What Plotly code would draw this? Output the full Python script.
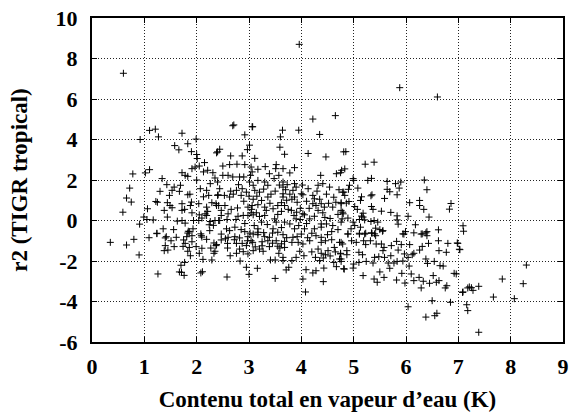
import plotly.graph_objects as go

# (water vapour content, r2), grouped by region of the plot
outliers = [(0.60,7.27),(3.96,8.70),(5.88,6.56),(6.60,6.10),(4.65,5.18),(4.22,5.01),(2.71,4.72),(3.07,4.63)]

left_upper = [(1.10,4.45),(1.21,4.51),(1.27,4.13),(0.92,4.0),(1.72,4.31),(1.58,3.70),(1.66,3.49),(1.83,3.79),(1.90,3.40),(1.99,4.02),
(2.0,3.26),(2.01,3.06),(2.40,3.39),(2.15,2.86),(2.05,2.69),(1.97,2.64),(1.91,2.56),(2.13,2.40),(2.21,2.48),(2.31,2.36),
(1.72,2.36),(1.78,2.23),(1.83,2.18),(1.10,2.51),(1.02,2.35),(0.78,2.30),(2.0,2.0),(2.35,2.10),(1.34,2.07),(1.43,1.77),
(1.57,1.65),(1.69,1.74),(1.53,1.49),(1.67,1.44),(2.07,1.57),(2.19,1.49),(2.26,1.82),(2.40,1.90),(1.30,1.44),(1.48,1.24),
(1.83,1.27),(1.87,1.30),(2.13,1.17),(2.23,1.24),(2.40,1.24),(0.72,1.60),(0.66,1.11),(0.75,0.91),(0.59,0.41),(1.06,0.58),
(1.22,0.94),(1.25,0.90),(1.44,0.88),(1.49,0.74),(1.38,0.50),(1.53,0.63),(1.72,0.83),(1.90,0.91),(2.04,0.83),(1.72,0.50),
(1.77,0.55),(1.88,0.74),(2.19,0.66),(2.29,0.88),(2.37,0.83),(2.42,0.74),(2.16,0.33),(2.05,0.28),(2.21,0.45),(1.91,0.38),
(1.44,0.17),(0.99,0.17),(1.05,0.05),(1.17,0.03),(0.91,-0.18),(1.63,-0.03),(1.72,0.0),(1.78,-0.13),(1.94,0.0),(2.04,0.0),
(2.10,0.12),(2.19,0.25),(2.26,-0.05),(2.35,0.0),(2.42,0.0),(2.24,-0.21),(2.32,-0.24),(1.24,-0.63),(1.36,-0.41),(1.56,-0.45),
(1.86,-0.55),(1.93,-0.41),(1.83,-0.62),(2.08,-0.66),(2.25,-0.5)]

left_lower = [(0.35,-1.08),(0.66,-1.21),(0.80,-0.93),(0.90,-1.70),(1.09,-0.85),(1.24,-0.65),(1.40,-0.86),(1.42,-0.80),(1.51,-1.0),(1.61,-0.83),
(1.40,-1.24),(1.38,-1.49),(1.45,-1.46),(1.57,-1.29),(1.74,-1.28),(1.75,-0.96),(1.81,-0.80),(1.91,-0.75),(1.84,-0.53),(1.78,-1.13),
(1.91,-1.05),(1.86,-1.33),(1.99,-1.29),(1.83,-1.52),(1.88,-1.74),(2.05,-1.62),(2.10,-1.37),(2.09,-0.75),(2.10,-0.82),(2.19,-0.93),
(2.27,-1.36),(2.33,-1.11),(2.37,-1.24),(2.35,-1.52),(2.33,-1.62),(2.12,-1.92),(2.29,-1.95),(1.77,-2.07),(1.70,-2.21),(1.67,-2.54),
(1.71,-2.56),(1.76,-2.71),(1.26,-2.64),(2.11,-2.53),(2.08,-2.59)]

middle_upper = [(3.06,4.63),(2.69,4.68),(3.64,4.46),(3.95,4.46),(3.60,4.13),(2.92,4.23),(4.35,4.25),(3.01,3.72),(2.97,3.50),(2.44,3.52),
(2.38,3.34),(3.59,3.62),(3.68,3.27),(4.13,3.31),(2.65,3.19),(2.87,3.19),(3.11,3.07),(4.47,3.14),(4.81,3.39),(2.50,2.69),
(2.63,2.76),(2.77,2.78),(2.92,2.76),(3.04,2.64),(3.17,2.53),(3.31,2.66),(3.52,2.76),(3.51,2.56),(3.65,2.56),(3.87,2.61),
(3.78,2.35),(3.57,2.23),(3.48,2.07),(3.39,2.31),(3.06,2.40),(3.03,2.23),(2.50,2.23),(2.60,2.23),(2.69,2.15),(2.82,2.15),
(2.90,2.15),(4.37,2.23),(4.67,2.31),(4.77,2.48),(2.44,1.57),(2.38,0.74),(3.01,1.9),(3.08,1.74),(3.17,1.98),(3.30,1.90),
(3.36,1.74),(2.80,1.77),(2.87,1.57),(2.76,1.49),(2.85,1.24),(2.53,1.24),(2.63,1.16),(2.41,1.27),(3.11,1.49),(3.20,1.40),
(3.24,0.99),(3.36,1.16),(3.65,1.90),(3.73,1.77),(3.87,1.82),(3.65,1.65),(3.65,1.32),(3.65,1.16),(3.84,1.49),(3.90,1.65),
(3.87,1.16),(4.0,1.32),(4.03,1.27),(4.13,1.57),(4.32,1.74),(4.41,1.82),(4.54,1.65),(4.72,1.52),(4.79,1.40),(4.22,1.24),
(4.25,1.07),(4.22,0.83),(4.28,0.74),(4.38,0.83),(4.44,0.66),(4.60,0.66),(4.76,0.83),(4.79,0.41),(4.32,0.50),(4.41,0.38),
(4.25,0.21),(2.98,0.66),(3.06,0.74),(3.17,0.78),(3.04,0.38),(3.30,0.66),(3.33,0.50),(3.30,0.25),(3.24,-0.08),(2.47,0.50),
(2.54,0.74),(2.60,0.33),(2.47,0.25),(2.79,0.21),(2.89,0.25),(2.98,0.25),(3.08,0.28),(3.14,0.38),(3.46,0.58),(3.55,0.74),
(3.68,0.74),(3.81,0.50),(3.91,0.41),(4.06,0.28),(4.03,0.33),(3.49,0.08),(3.52,-0.08),(3.68,-0.08),(3.78,-0.17),(3.90,0.08),
(4.16,0.08),(4.38,-0.17),(4.38,-0.33),(4.48,-0.17),(4.60,-0.25),(4.76,-0.08),(3.17,-0.41),(3.17,-0.58),(2.57,-0.41),(2.73,-0.33),
(2.92,-0.55),(2.44,0.0),(2.63,-0.5),(3.46,-0.41),(3.55,-0.58),(3.87,-0.41),(4.06,-0.41),(4.25,-0.41)]

# tighter clumps in the middle of the cloud, where marks overlap in the picture
dense_core = [(2.65,1.45),(2.70,1.30),(2.95,1.40),(3.00,1.20),(3.08,1.05),(3.15,1.20),(3.28,1.55),(3.42,1.30),(3.50,1.45),(3.58,1.75),
(3.70,1.52),(3.78,1.30),(3.82,1.05),(3.72,1.00),(3.62,0.88),(3.75,0.55),(3.92,0.90),(3.98,0.60),(4.10,0.95),(4.15,0.60),
(4.02,1.75),(4.30,1.45),(4.48,1.30),(4.62,1.15),(4.66,0.90),(4.52,0.85),(4.35,1.05),(4.70,0.30),(4.55,0.10),(4.45,0.15),
(4.10,-0.15),(3.95,-0.25),(3.62,-0.35),(3.35,-0.20),(3.10,-0.25),(2.92,-0.15),(2.75,0.05),(2.58,0.05),(2.66,0.55),(2.78,0.62),
(2.90,0.95),(3.05,0.55),(3.20,0.20),(3.40,0.85),(3.55,0.30),(3.62,0.45),(3.86,0.25),(3.98,0.05),(4.58,-0.55),(4.70,-0.45),
(4.50,-0.70),(4.28,-0.75),(4.12,-0.85),(3.92,-0.80),(3.72,-0.85),(3.45,-0.62),(3.28,-0.60),(3.02,-0.62),(2.85,-0.45),(2.55,-0.90),
(3.62,-1.15),(3.45,-1.12),(3.25,-1.25),(3.12,-1.30),(2.72,-0.95),(4.58,-0.95),(4.65,-1.55),(4.55,-1.75),(4.42,-1.85),(4.20,-1.55)]

middle_lower = [(2.47,-0.67),(2.60,-0.83),(2.73,-0.8),(2.82,-0.86),(2.98,-0.8),(2.47,-0.96),(2.38,-1.19),(2.59,-1.13),(2.59,-1.36),(2.76,-1.13),
(2.87,-1.13),(2.97,-1.0),(3.04,-1.0),(3.07,-1.08),(2.95,-1.24),(2.82,-1.41),(2.76,-1.62),(2.89,-1.54),(2.98,-1.65),(3.08,-1.49),
(2.64,-1.74),(3.25,-1.05),(3.20,-1.41),(3.27,-1.52),(3.39,-1.29),(3.17,-0.7),(3.30,-0.8),(3.39,-0.83),(3.52,-1.0),(3.65,-0.7),
(3.68,-1.03),(3.68,-1.33),(3.59,-1.36),(3.57,-1.62),(3.84,-0.83),(3.82,-1.08),(3.94,-1.08),(4.03,-1.16),(4.16,-1.0),(3.97,-1.52),
(4.05,-1.74),(3.90,-1.82),(3.82,-1.98),(3.65,-1.82),(3.65,-1.98),(3.50,-1.95),(3.41,-1.95),(4.27,-1.82),(4.35,-1.98),(4.32,-1.41),
(4.38,-1.62),(4.46,-1.69),(4.51,-1.49),(4.63,-1.33),(4.73,-1.08),(4.79,-1.16),(4.46,-1.0),(4.38,-1.08),(4.75,-1.62),(4.73,-1.9),
(4.76,-2.02),(4.62,-2.07),(4.67,-2.28),(4.81,-2.38),(4.43,-2.35),(4.28,-2.48),(4.22,-2.59),(4.09,-2.43),(4.42,-3.02),(4.03,-2.89),
(4.08,-3.53),(3.76,-2.31),(3.71,-2.44),(3.50,-2.86),(3.16,-2.36),(2.95,-2.31),(3.0,-2.66),(2.83,-2.0),(2.58,-2.79),(3.08,-0.67),
(3.36,-1.0),(3.55,-1.27),(4.0,-0.67),(4.2,-0.63),(4.38,-0.83)]

right_upper = [(4.85,3.40),(5.39,2.88),(5.22,2.78),(4.83,2.55),(4.75,2.36),(4.99,2.07),(5.0,1.98),(5.34,2.08),(5.27,1.98),(5.64,1.93),
(5.80,1.82),(5.90,1.90),(5.87,1.60),(6.35,2.0),(6.40,1.52),(5.64,1.54),(5.69,1.42),(5.83,1.27),(5.59,1.09),(6.07,0.88),
(6.26,0.99),(6.26,0.74),(6.34,0.55),(6.86,0.84),(6.83,0.56),(6.44,0.17),(6.04,0.21),(5.83,0.23),(5.83,0.03),(5.85,-0.18),
(5.71,0.40),(5.53,0.46),(6.18,-0.21),(6.62,-0.46),(6.40,-0.55),(5.99,-0.55),(7.09,-0.26),(7.10,-0.53),(6.15,-0.61),(6.31,-0.66),
(6.38,-0.61),(5.94,-0.66),(5.08,1.60),(4.92,1.74),(4.90,1.54),(4.81,1.40),(4.83,1.24),(4.91,0.94),(4.86,0.86),(4.76,0.88),
(5.15,1.17),(5.13,0.99),(5.35,1.27),(5.33,1.22),(5.34,0.69),(5.37,0.55),(5.02,0.69),(5.07,0.55),(5.18,0.36),(5.15,0.22),
(5.18,0.17),(5.11,0.05),(5.21,0.03),(4.76,0.50),(4.80,0.33),(4.78,0.08),(4.89,0.12),(4.99,-0.08),(5.02,-0.25),(4.95,-0.41),
(5.33,-0.05),(5.39,0.0),(5.46,-0.08),(5.42,-0.38),(5.50,-0.45),(5.56,-0.50),(5.13,-0.33),(5.11,-0.63),(5.23,-0.63),(5.34,-0.61),
(5.40,-0.66),(4.89,-0.66)]

right_lower = [(4.89,-0.67),(5.11,-0.67),(5.21,-0.67),(5.35,-0.63),(5.55,-0.53),(4.76,-1.08),(4.87,-1.49),(4.87,-1.69),(4.76,-1.90),(4.75,-1.65),
(4.96,-1.0),(5.05,-1.08),(5.19,-1.0),(5.23,-1.19),(5.32,-1.0),(5.42,-0.75),(5.43,-1.16),(5.53,-1.16),(5.56,-1.49),(5.58,-1.33),
(5.72,-1.24),(5.82,-1.03),(5.91,-1.19),(5.85,-1.46),(5.96,-0.67),(6.29,-0.67),(6.40,-0.75),(6.07,-1.19),(6.31,-1.28),(6.43,-1.13),
(6.62,-1.0),(6.80,-1.13),(6.63,-1.49),(6.77,-1.57),(6.99,-1.13),(7.03,-1.44),(5.97,-1.65),(6.12,-1.69),(6.04,-1.82),(6.15,-1.62),
(6.38,-1.90),(6.41,-2.12),(6.54,-2.02),(6.65,-2.23),(6.71,-2.25),(6.26,-1.46),(5.10,-1.57),(5.17,-1.69),(5.0,-2.15),(5.10,-2.07),
(5.24,-2.02),(5.37,-2.10),(5.40,-1.82),(5.48,-1.79),(5.59,-1.82),(5.71,-1.74),(5.66,-2.1),(5.69,-2.36),(5.77,-2.1),(5.83,-2.02),
(5.94,-2.0),(4.82,-2.40),(4.99,-2.35),(5.18,-2.72),(5.39,-2.89),(5.45,-3.05),(5.50,-2.54),(5.58,-2.81),(5.82,-2.94),(5.92,-2.61),
(5.98,-3.09),(6.06,-2.25),(6.10,-2.64),(6.15,-2.97),(6.25,-2.81),(6.33,-3.0),(6.29,-3.33),(6.45,-3.10),(6.52,-2.72),(6.58,-3.05),
(6.63,-2.97),(6.78,-3.22),(6.75,-3.33),(6.92,-2.61),(6.96,-2.64),(7.08,-3.55),(7.18,-3.33),(6.85,-4.04),(6.50,-3.96),(6.04,-4.26),
(6.38,-4.77),(6.55,-4.70),(6.59,-4.58)]

far_right = [(7.09,-3.53),(7.21,-3.28),(7.25,-3.32),(7.28,-3.45),(7.39,-3.25),(7.84,-2.89),(8.30,-2.2),(8.24,-3.12),(8.07,-3.86),(7.67,-3.78),
(7.16,-4.16),(7.18,-4.45),(7.39,-5.52),(6.98,-1.11),(7.02,-1.42)]

x_ticks = [0, 1, 2, 3, 4, 5, 6, 7, 8, 9]
y_ticks = [-6, -4, -2, 0, 2, 4, 6, 8, 10]
x_title = "Contenu total en vapeur d’eau (K)"
y_title = "r2 (TIGR tropical)"

points = (outliers + left_upper + left_lower + middle_upper + dense_core + middle_lower
          + right_upper + right_lower + far_right)
xs = [p[0] for p in points]
ys = [p[1] for p in points]

FONT = "Liberation Serif"
fig = go.Figure(go.Scatter(
    x=xs, y=ys, mode="markers",
    marker=dict(symbol="cross-thin", size=5, color="black", line=dict(color="black", width=1)),
    hoverinfo="skip", showlegend=False,
))
axis_common = dict(
    showgrid=True, gridcolor="#222222", griddash="1px,2px", gridwidth=1,
    zeroline=False, showline=True, linecolor="black", linewidth=2, mirror="ticks",
    ticks="inside", ticklen=5, tickwidth=1, tickcolor="black",
    tickfont=dict(family=FONT, size=22, color="black"),
)
fig.update_xaxes(range=[0, 9], tickvals=x_ticks, ticktext=["<b>%d</b>" % v for v in x_ticks],
                 ticklabelstandoff=4,
                 title=dict(text="<b>%s</b>" % x_title, font=dict(family=FONT, size=23, color="black"), standoff=12),
                 **axis_common)
fig.update_yaxes(range=[-6, 10], tickvals=y_ticks, ticktext=["<b>%d</b>" % v for v in y_ticks],
                 ticklabelstandoff=8,
                 title=dict(text="<b>%s</b>" % y_title, font=dict(family=FONT, size=23, color="black"), standoff=22),
                 **axis_common)
fig.update_layout(
    width=581, height=414, autosize=False,
    margin=dict(l=92, r=18, t=18, b=72, autoexpand=False),
    paper_bgcolor="white", plot_bgcolor="white",
)
fig.write_html("out.html", config={"displayModeBar": False},
               post_script="document.body.style.margin='0';document.body.style.overflow='hidden';")
